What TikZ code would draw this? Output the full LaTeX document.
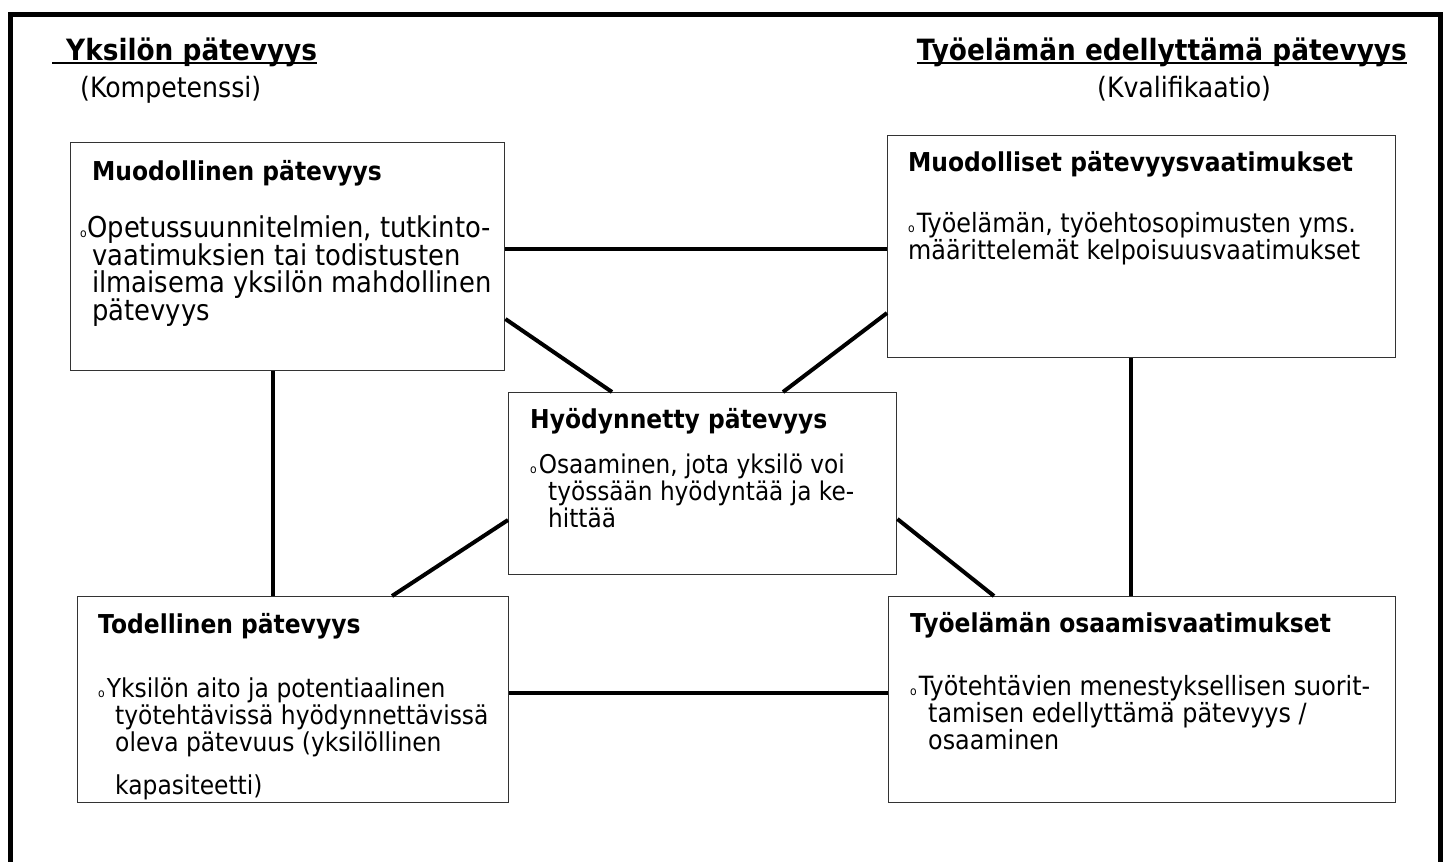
\documentclass[tikz,border=0pt]{standalone}
\usepackage{fontspec}
\setmainfont{DejaVu Sans}[FakeStretch=0.9]
\usetikzlibrary{calc}
\newcommand\myul[1]{\setbox0\hbox{#1}\rlap{\rule[-3.5pt]{\wd0}{2pt}}\box0}
\newcommand\bul{{\fontsize{12}{12}\selectfont o}}
\begin{document}
\begin{tikzpicture}[x=1pt,y=-1pt,
  box/.style={draw=black!80, line width=1.4pt, fill=white, inner sep=0pt, anchor=north west},
  ttl/.style={font=\fontsize{26}{30}\selectfont\bfseries, inner sep=0pt, anchor=base west},
  hdr/.style={font=\fontsize{29.3}{32}\selectfont\bfseries, inner sep=0pt},
  sub/.style={font=\fontsize{28}{32}\selectfont, inner sep=0pt, anchor=base west},
  bodytxt/.style={font=\fontsize{26.5}{27}\selectfont, inner sep=0pt, anchor=base west},
  conn/.style={line width=4pt, black},
  frame/.style={line width=4.5pt, black}]
\useasboundingbox (0,0) rectangle (1443,862);
% frame
\draw[frame] (10.5,862) -- (10.5,14.7) -- (1440.5,14.7) -- (1440.5,862);
% headers
\node[hdr, anchor=base west] (h1) at (52,60) {\myul{\hspace{14pt}Yksilön pätevyys}};
\node[sub] (s1) at (80,97) {(Kompetenssi)};
\node[hdr, anchor=base east] (h2) at (1407,60) {\myul{Työelämän edellyttämä pätevyys}};
\node[sub] (s2) at (1097,97) {(Kvalifikaatio)};
% boxes
\node[box, minimum width=434pt, minimum height=228pt] (b1) at (70,142) {};
\node[box, minimum width=508pt, minimum height=222pt] (b2) at (887,135) {};
\node[box, minimum width=388pt, minimum height=182pt] (c) at (508,392) {};
\node[box, minimum width=431pt, minimum height=206pt] (b3) at (77,596) {};
\node[box, minimum width=507pt, minimum height=206pt] (b4) at (888,596) {};
% connectors
\draw[conn] (b1.east |- 0,249) -- (b2.west |- 0,249);
\draw[conn] (b1.east |- 0,319) -- (c.north -| 612,0);
\draw[conn] (b2.west |- 0,313) -- (c.north -| 783,0);
\draw[conn] (b1.south -| 273,0) -- (b3.north -| 273,0);
\draw[conn] (b2.south -| 1131,0) -- (b4.north -| 1131,0);
\draw[conn] (c.west |- 0,520) -- (b3.north -| 392,0);
\draw[conn] (c.east |- 0,519) -- (b4.north -| 994,0);
\draw[conn] (b3.east |- 0,693) -- (b4.west |- 0,693);
% titles
\node[ttl] (b1t) at (92,180) {Muodollinen pätevyys};
\node[ttl] (b2t) at (908,171) {Muodolliset pätevyysvaatimukset};
\node[ttl] (ct) at (530,428) {Hyödynnetty pätevyys};
\node[ttl] (b3t) at (98,633) {Todellinen pätevyys};
\node[ttl] (b4t) at (910,632) {Työelämän osaamisvaatimukset};
% bodies
\node[bodytxt, font=\fontsize{28.7}{26.3}\selectfont] (b1x) at (80,237) {\parbox[t]{560pt}{\hangindent=12pt\hangafter=1\bul\hspace{0.5pt}Opetussuunnitelmien, tutkinto-\\vaatimuksien tai todistusten\\ilmaisema yksilön mahdollinen\\pätevyys}};
\node[bodytxt] (b2x) at (908,232) {\parbox[t]{560pt}{\bul\hspace{2pt}Työelämän, työehtosopimusten yms.\\määrittelemät kelpoisuusvaatimukset}};
\node[bodytxt, font=\fontsize{25.8}{27}\selectfont] (cx) at (530,473) {\parbox[t]{560pt}{\hangindent=18pt\hangafter=1\bul\hspace{2pt}Osaaminen, jota yksilö voi\\työssään hyödyntää ja ke-\\hittää}};
\node[bodytxt, font=\fontsize{26}{27}\selectfont] (b3x) at (98,697) {\parbox[t]{560pt}{\hangindent=17pt\hangafter=1\bul\hspace{2pt}Yksilön aito ja potentiaalinen\\työtehtävissä hyödynnettävissä\\oleva pätevuus (yksilöllinen\\[16pt]kapasiteetti)}};
\node[bodytxt] (b4x) at (910,695) {\parbox[t]{560pt}{\hangindent=18pt\hangafter=1\bul\hspace{2pt}Työtehtävien menestyksellisen suorit-\\tamisen edellyttämä pätevyys /\\osaaminen}};
\end{tikzpicture}
\end{document}
